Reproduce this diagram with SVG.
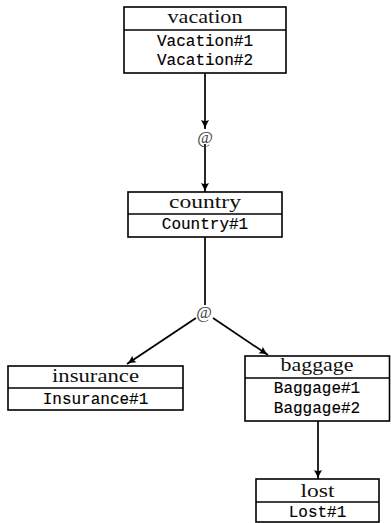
<svg xmlns="http://www.w3.org/2000/svg" width="391" height="523" viewBox="0 0 391 523">
<style>
.box{fill:#fff;stroke:#000;stroke-width:1.6}
.div{stroke:#000;stroke-width:1.6}
.t{font-family:"Liberation Serif",serif;font-size:18px;text-anchor:middle;fill:#111}
.r{font-family:"Liberation Mono",monospace;font-size:16px;text-anchor:middle;fill:#000;stroke:#000;stroke-width:0.15}
.at{font-family:"Liberation Serif",serif;font-size:17px;text-anchor:middle;fill:#444}
.c{stroke:#000;stroke-width:1.7;fill:none}
</style>
<defs>
<marker id="ah" markerWidth="10" markerHeight="10" viewBox="0 0 10 10" refX="9" refY="5" orient="auto" markerUnits="userSpaceOnUse">
<path d="M0,1 Q5,4 9,5 Q5,6 0,9 Q2,5 0,1 Z" fill="#000"/>
</marker>
</defs>
<g id="connectors">
<line class="c" x1="205" y1="73" x2="205" y2="129" marker-end="url(#ah)"/>
<line class="c" x1="205" y1="144" x2="205" y2="192" marker-end="url(#ah)"/>
<line class="c" x1="205" y1="237" x2="205" y2="305"/>
<line class="c" x1="196" y1="318" x2="127" y2="364" marker-end="url(#ah)"/>
<line class="c" x1="213" y1="318" x2="268" y2="355" marker-end="url(#ah)"/>
<line class="c" x1="318" y1="421" x2="318" y2="479" marker-end="url(#ah)"/>
<text class="at" x="205" y="143">@</text>
<text class="at" x="204" y="318">@</text>
</g>
<g id="vacation">
<rect class="box" x="124" y="7" width="162" height="66"/>
<line class="div" x1="124" y1="30" x2="286" y2="30"/>
<text class="t" x="205" y="23" textLength="75" lengthAdjust="spacingAndGlyphs">vacation</text>
<text class="r" x="205" y="46">Vacation#1</text>
<text class="r" x="205" y="65">Vacation#2</text>
</g>
<g id="country">
<rect class="box" x="128" y="192" width="154" height="45"/>
<line class="div" x1="128" y1="214" x2="282" y2="214"/>
<text class="t" x="205" y="208" textLength="72" lengthAdjust="spacingAndGlyphs">country</text>
<text class="r" x="205" y="229">Country#1</text>
</g>
<g id="insurance">
<rect class="box" x="8" y="366" width="175" height="44"/>
<line class="div" x1="8" y1="388" x2="183" y2="388"/>
<text class="t" x="95.5" y="382" textLength="87" lengthAdjust="spacingAndGlyphs">insurance</text>
<text class="r" x="95.5" y="404">Insurance#1</text>
</g>
<g id="baggage">
<rect class="box" x="245" y="356" width="144.5" height="65"/>
<line class="div" x1="245" y1="378" x2="389.5" y2="378"/>
<text class="t" x="317" y="371" textLength="73" lengthAdjust="spacingAndGlyphs">baggage</text>
<text class="r" x="317" y="393">Baggage#1</text>
<text class="r" x="317" y="413">Baggage#2</text>
</g>
<g id="lost">
<rect class="box" x="256" y="479" width="123" height="43"/>
<line class="div" x1="256" y1="502" x2="379" y2="502"/>
<text class="t" x="317.5" y="497" textLength="34" lengthAdjust="spacingAndGlyphs">lost</text>
<text class="r" x="317.5" y="517">Lost#1</text>
</g>
</svg>
